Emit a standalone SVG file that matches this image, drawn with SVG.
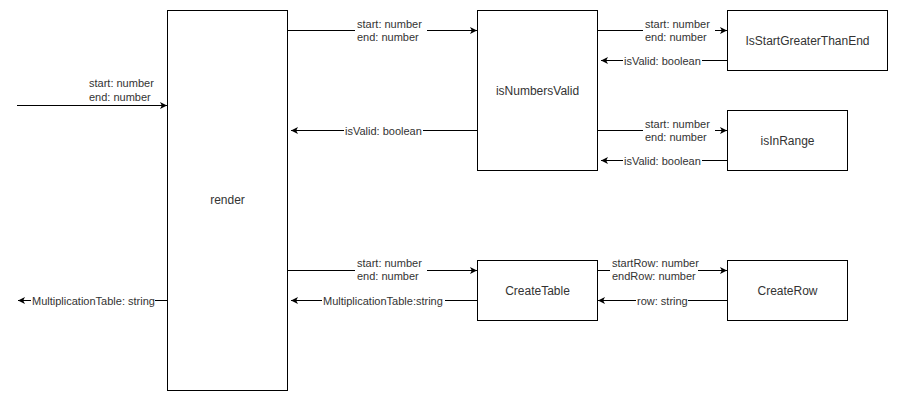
<svg xmlns="http://www.w3.org/2000/svg" width="898" height="401" viewBox="0 0 898 401">
<style>
.node{fill:#fff;stroke:#000;stroke-width:1}
.nl{font-family:"Liberation Sans",Arial,sans-serif;font-size:12px;fill:#333;text-anchor:middle;dominant-baseline:central}
.el{font-family:"Liberation Sans",Arial,sans-serif;font-size:11px;fill:#333}
.edge{stroke:#000;stroke-width:1;fill:none;marker-end:url(#arr)}
.bg{fill:#fff}
</style>
<defs>
<marker id="arr" markerUnits="userSpaceOnUse" markerWidth="8" markerHeight="8" refX="7" refY="3.5" orient="auto" viewBox="0 0 8 8">
<path d="M0,0 L7,3.5 L0,7 L1.8,3.5 Z" fill="#000"/>
</marker>
</defs>
<rect width="898" height="401" fill="#fff"/>
<g id="connectors">
<path class="edge" d="M17,105.5 H167"/>
<path class="edge" d="M287,30.5 H477"/>
<path class="edge" d="M477,130.5 H291"/>
<path class="edge" d="M597,30.5 H727"/>
<path class="edge" d="M727,60.5 H601"/>
<path class="edge" d="M597,130.5 H727"/>
<path class="edge" d="M727,160.5 H601"/>
<path class="edge" d="M287,270.5 H477"/>
<path class="edge" d="M477,300.5 H291"/>
<path class="edge" d="M167,300.5 H18"/>
<path class="edge" d="M597,270.5 H727"/>
<path class="edge" d="M727,300.5 H598"/>
<g id="edge-labels">
<text class="el" x="89" y="87">start: number</text>
<text class="el" x="89" y="101">end: number</text>
<rect class="bg" x="355" y="18" width="72" height="25"/>
<text class="el" x="357" y="27.5">start: number</text>
<text class="el" x="357" y="40.5">end: number</text>
<rect class="bg" x="344" y="124" width="79" height="13"/>
<text class="el" x="345" y="134.5">isValid: boolean</text>
<rect class="bg" x="643" y="18" width="72" height="25"/>
<text class="el" x="645" y="27.5">start: number</text>
<text class="el" x="645" y="40.5">end: number</text>
<rect class="bg" x="623" y="54" width="79" height="13"/>
<text class="el" x="624" y="64.5">isValid: boolean</text>
<rect class="bg" x="643" y="118" width="72" height="25"/>
<text class="el" x="645" y="127.5">start: number</text>
<text class="el" x="645" y="140.5">end: number</text>
<rect class="bg" x="623" y="154" width="79" height="13"/>
<text class="el" x="624" y="164.5">isValid: boolean</text>
<rect class="bg" x="355" y="258" width="72" height="25"/>
<text class="el" x="357" y="267">start: number</text>
<text class="el" x="357" y="280">end: number</text>
<rect class="bg" x="322" y="294" width="123" height="13"/>
<text class="el" x="323" y="304.5">MultiplicationTable:string</text>
<rect class="bg" x="31" y="294" width="124" height="13"/>
<text class="el" x="32" y="304.5">MultiplicationTable: string</text>
<rect class="bg" x="610" y="258" width="88" height="25"/>
<text class="el" x="612" y="267">startRow: number</text>
<text class="el" x="612" y="280">endRow: number</text>
<rect class="bg" x="636" y="294" width="52" height="13"/>
<text class="el" x="637" y="304.5">row: string</text>
</g>
</g>
<g id="render"><rect class="node" x="167.5" y="10.5" width="120" height="380"/><text class="nl" x="227.5" y="200">render</text></g>
<g id="isNumbersValid"><rect class="node" x="477.5" y="10.5" width="120" height="160"/><text class="nl" x="537.5" y="90.5">isNumbersValid</text></g>
<g id="IsStartGreaterThanEnd"><rect class="node" x="727.5" y="10.5" width="160" height="60"/><text class="nl" x="807.5" y="40.5">IsStartGreaterThanEnd</text></g>
<g id="isInRange"><rect class="node" x="727.5" y="110.5" width="120" height="60"/><text class="nl" x="787.5" y="140.5">isInRange</text></g>
<g id="CreateTable"><rect class="node" x="477.5" y="260.5" width="120" height="60"/><text class="nl" x="537.5" y="290.5">CreateTable</text></g>
<g id="CreateRow"><rect class="node" x="727.5" y="260.5" width="120" height="60"/><text class="nl" x="787.5" y="290.5">CreateRow</text></g>
</svg>
